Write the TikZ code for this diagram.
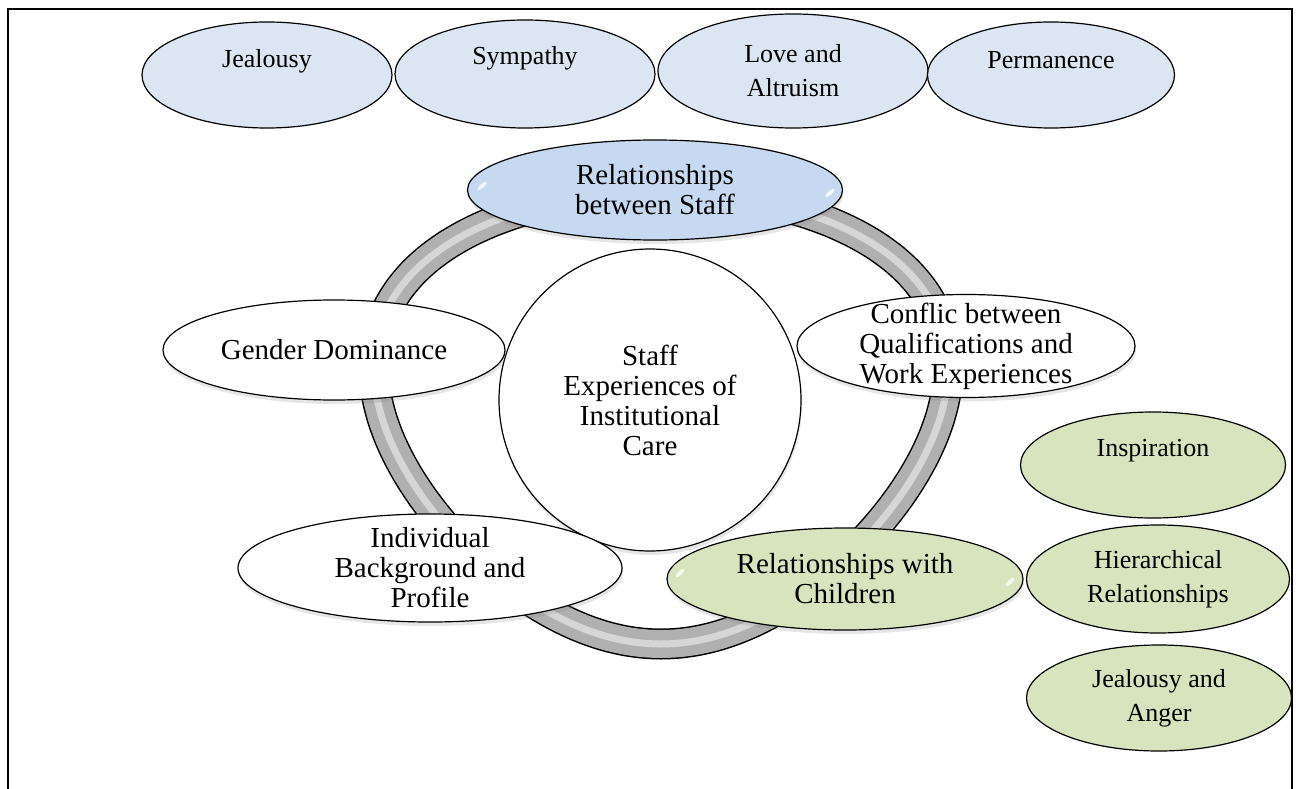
\documentclass[tikz,border=0pt]{standalone}
\usepackage{fontspec}
\setmainfont{Liberation Serif}
\usetikzlibrary{shapes.geometric,shadows}
\definecolor{topblue}{HTML}{DCE6F2}
\definecolor{staffblue}{HTML}{C6D9F1}
\definecolor{leafgreen}{HTML}{D7E4BD}
\definecolor{ringgrey}{HTML}{B0B0B0}
\definecolor{ringlight}{HTML}{D6D6D6}
\tikzset{
  oval/.style={ellipse,draw,line width=1.2pt,inner sep=0pt},
  topoval/.style={oval,fill=topblue},
  greenoval/.style={oval,fill=leafgreen},
  ringoval/.style={oval,fill=white,drop shadow={opacity=0.2,shadow xshift=1pt,shadow yshift=-4pt}},
  smalltext/.style={font=\fontsize{26}{34}\selectfont,align=center},
  bigtext/.style={font=\fontsize{29}{30}\selectfont,align=center},
  gloss/.style={white,opacity=0.75}
}
\begin{document}
\begin{tikzpicture}[x=1pt,y=-1pt]
\useasboundingbox (0,0) rectangle (1300,789);
\draw[line width=1.5pt] (8,789) -- (8,9) -- (1292,9) -- (1292,789);
\foreach \w/\c in {31/black,28/ringgrey,7/ringlight}
  \draw[line width=\w pt,\c] plot[smooth cycle,domain=0:355,samples=72]
    ({661+279*cos(\x)*(1-0.25*sin(\x))},{418+226*sin(\x)});
\node[circle,draw,line width=1.2pt,fill=white,minimum size=302pt,inner sep=0pt,drop shadow={opacity=0.2,shadow xshift=1pt,shadow yshift=-4pt},
  label={[bigtext]center:{Staff\\Experiences of\\Institutional\\Care}}] (hub) at (650,400) {};
\node[ringoval,fill=staffblue,minimum width=375pt,minimum height=100pt,
  label={[bigtext]center:{Relationships\\between Staff}}] (staff) at (655,190) {};
\node[ringoval,minimum width=342pt,minimum height=100pt,
  label={[bigtext]center:{Gender Dominance}}] (gender) at (334,350) {};
\node[ringoval,minimum width=338pt,minimum height=103pt,
  label={[bigtext]center:{Conflic between\\Qualifications and\\Work Experiences}}] (conflict) at (966,346) {};
\node[ringoval,minimum width=384pt,minimum height=108pt,
  label={[bigtext]center:{Individual\\Background and\\Profile}}] (background) at (430,568) {};
\node[ringoval,fill=leafgreen,minimum width=356pt,minimum height=102pt,
  label={[bigtext]center:{Relationships with\\Children}}] (children) at (845,579) {};
\fill[gloss,rotate around={40:(482,186)}] (482,186) ellipse (6pt and 2pt);
\fill[gloss,rotate around={40:(830,193)}] (830,193) ellipse (6pt and 2pt);
\fill[gloss,rotate around={45:(680,573)}] (680,573) ellipse (6pt and 2pt);
\fill[gloss,rotate around={45:(1010,582)}] (1010,582) ellipse (6pt and 2pt);
\node[topoval,minimum width=250pt,minimum height=106pt,
  label={[smalltext,yshift=14pt]center:Jealousy}] (jealousy) at (267,75) {};
\node[topoval,minimum width=260pt,minimum height=108pt,
  label={[smalltext,yshift=16pt]center:Sympathy}] (sympathy) at (525,74) {};
\node[topoval,minimum width=270pt,minimum height=114pt,
  label={[smalltext]center:{Love and\\Altruism}}] (love) at (793,71) {};
\node[topoval,minimum width=247pt,minimum height=106pt,
  label={[smalltext,yshift=15pt]center:Permanence}] (permanence) at (1051,75) {};
\node[greenoval,minimum width=265pt,minimum height=106pt,
  label={[smalltext,yshift=14pt]center:Inspiration}] (inspiration) at (1153,465) {};
\node[greenoval,minimum width=263pt,minimum height=108pt,
  label={[smalltext]center:{Hierarchical\\Relationships}}] (hierarchy) at (1158,579) {};
\node[greenoval,minimum width=265pt,minimum height=106pt,
  label={[smalltext]center:{Jealousy and\\Anger}}] (anger) at (1159,698) {};
\end{tikzpicture}
\end{document}
